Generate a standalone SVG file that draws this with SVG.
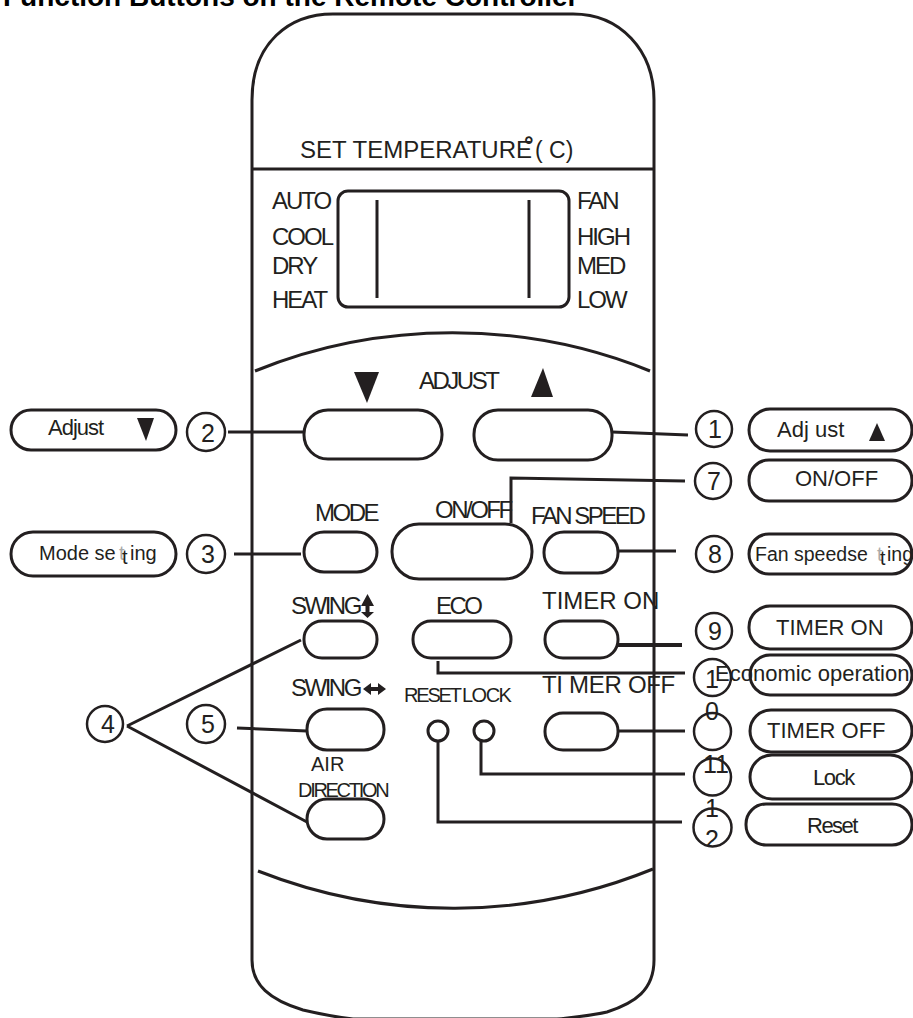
<svg xmlns="http://www.w3.org/2000/svg" width="913" height="1018" viewBox="0 0 913 1018">
<style>
text{font-family:"Liberation Sans",Arial,sans-serif;fill:#231f20;font-size:24px}
.s{fill:none;stroke:#231f20;stroke-width:3}
.c{fill:none;stroke:#231f20;stroke-width:2.5}
.b{fill:#fff;stroke:#231f20;stroke-width:3}
.n{font-size:25px;text-anchor:middle}
.f{fill:#231f20}
.t{letter-spacing:-2.5px}
.m{letter-spacing:-2px}
</style>
<defs><clipPath id="clip12"><rect x="690" y="800" width="50" height="46"/></clipPath></defs>
<rect width="913" height="1018" fill="#fff"/>
<text x="3" y="6" style="font-size:28px;font-weight:bold;fill:#000">Function Buttons on the Remote Controller</text>
<g id="body">
<path class="s" d="M252 100C252 42 290 14 333 14H573C620 14 654 50 654 100V960C654 990 635 1003 607 1012C590 1016 575 1017 557 1019H353C335 1017 320 1014 303 1010C270 1000 252 985 252 960Z"/>
<path class="s" d="M252 169H654"/>
<rect class="s" x="338" y="191" width="231" height="116" rx="10"/>
<path class="s" d="M377 200V298M529 200V298"/>
<path class="s" d="M255 371C380 320 525 320 650 371"/>
<path class="s" d="M258 871C385 921 525 921 653 869"/>
<text x="300" y="158">SET TEMPERATURE</text><text x="524" y="153" style="font-weight:bold">°</text>
<text x="535" y="158" style="font-size:23px">( C)</text>
<text class="m" x="272" y="209">AUTO</text><text class="m" x="272" y="245">COOL</text><text class="m" x="272" y="274">DRY</text><text class="m" x="272" y="308">HEAT</text>
<text class="m" x="577" y="209">FAN</text><text class="m" x="577" y="245">HIGH</text><text class="m" x="577" y="274">MED</text><text class="m" x="577" y="308">LOW</text>
<path class="f" d="M354 372H379L367 403Z"/><path class="f" d="M531 397H553L543 368Z"/>
<text class="t" x="419" y="389">ADJUST</text>
<text class="t" x="315" y="521">MODE</text>
<text class="t" x="435" y="518">ON/OFF</text>
<text class="t" x="531" y="524">FAN SPEED</text>
<text class="t" x="291" y="614">SWING</text>
<path class="f" d="M367.5 594L374 606H369.5V606.5H369.5V612H374L367.5 618L361 612H365.5V606H361Z"/>
<text class="t" x="436" y="614">ECO</text>
<text x="542" y="609">TIMER ON</text>
<text class="t" x="291" y="696">SWING</text>
<path class="f" d="M363 689L371 683V687H378V683L386 689L378 695V691H371V695Z"/>
<text x="404" y="702" style="font-size:20px;letter-spacing:-2.2px">RESET</text><text x="462" y="702" style="font-size:20px;letter-spacing:-1.5px">LOCK</text>
<text x="542" y="693" style="letter-spacing:-.3px">TI MER OFF</text>
<text x="311" y="771" style="font-size:20px">AIR</text>
<text x="298" y="797" style="font-size:20px;letter-spacing:-2.3px">DIRECTION</text>
</g>
<g id="connectors">
<path class="s" d="M228 432H304M234 554H301M612 432L688 435M511 523V478L685 481M618 551H676M438 661V673H685M618 731H685M438 741V822H682M481 741V774H685M127 726L301 640M127 726L307 822M237 728L307 731"/>
<path class="s" style="stroke-width:4" d="M618 645H682"/>
</g>
<g id="buttons">
<rect id="btn-down" class="s" x="304" y="410" width="138" height="49" rx="24"/>
<rect id="btn-up" class="s" x="474" y="410" width="138" height="50" rx="24"/>
<rect id="btn-mode" class="s" x="304" y="532" width="73" height="40" rx="20"/>
<rect id="btn-onoff" class="s" x="392" y="524" width="140" height="55" rx="27"/>
<rect id="btn-fan" class="s" x="544" y="532" width="74" height="41" rx="20"/>
<rect id="btn-swingv" class="s" x="304" y="621" width="73" height="37" rx="18"/>
<rect id="btn-eco" class="s" x="413" y="621" width="98" height="37" rx="18"/>
<rect id="btn-timeron" class="s" x="545" y="621" width="73" height="37" rx="18"/>
<rect id="btn-swingh" class="s" x="307" y="709" width="77" height="41" rx="20"/>
<rect id="btn-air" class="s" x="307" y="799" width="77" height="40" rx="20"/>
<rect id="btn-timeroff" class="s" x="545" y="713" width="73" height="37" rx="18"/>
<circle id="btn-reset" class="b" cx="438" cy="731" r="10"/>
<circle id="btn-lock" class="b" cx="484" cy="731" r="10"/>
</g>
<g id="n2"><circle class="c" cx="206" cy="432" r="19"/><text class="n" x="208" y="442">2</text></g>
<g id="n3"><circle class="c" cx="206" cy="554" r="19"/><text class="n" x="208" y="563">3</text></g>
<g id="n4"><circle class="c" cx="105" cy="724" r="18"/><text class="n" x="108" y="733">4</text></g>
<g id="n5"><circle class="c" cx="206" cy="724" r="19"/><text class="n" x="208" y="733">5</text></g>
<g id="n1"><circle class="c" cx="714" cy="429" r="18"/><text class="n" x="715" y="438">1</text></g>
<g id="n7"><circle class="c" cx="713" cy="481" r="18"/><text class="n" x="714" y="490">7</text></g>
<g id="n8"><circle class="c" cx="714" cy="554" r="18"/><text class="n" x="715" y="563">8</text></g>
<g id="n9"><circle class="c" cx="714" cy="631" r="18"/><text class="n" x="715" y="640">9</text></g>
<g id="n10"><circle class="c" cx="712.5" cy="677.5" r="18.5"/><text class="n" x="712" y="688">1</text><text class="n" x="712" y="720">0</text></g>
<g id="n-timeroff"><circle class="c" cx="712.5" cy="731.5" r="18.5"/></g>
<g id="n11"><circle class="c" cx="712.5" cy="777" r="18.5"/><text class="n" x="716" y="773">11</text></g>
<g id="n12"><circle class="c" cx="712.5" cy="827.5" r="19"/><text class="n" x="712" y="817">1</text><text class="n" x="712" y="848" clip-path="url(#clip12)">2</text></g>
<g id="p-down"><rect class="s" x="11" y="410" width="165" height="40" rx="20"/><text x="48" y="435" style="font-size:22px;letter-spacing:-1px">Adjust</text><path class="f" d="M137 418H154L146 441Z"/></g>
<g id="p-mode"><rect class="s" x="11" y="532" width="165" height="44" rx="22"/><text x="39" y="560" style="font-size:20px">Mode se</text><text x="119" y="560" style="font-size:20px;fill:#aaa">t</text><text x="122" y="564" style="font-size:20px">t</text><text x="130" y="560" style="font-size:20px">ing</text></g>
<g id="p-up"><rect class="s" x="749" y="409" width="163" height="42" rx="21"/><text x="777" y="437" style="font-size:22px">Adj ust</text><path class="f" d="M869 441H885L877 423Z"/></g>
<g id="p-onoff"><rect class="s" x="749" y="460" width="163" height="41" rx="20"/><text x="795" y="486" style="font-size:22px">ON/OFF</text></g>
<g id="p-fan"><rect class="s" x="749" y="534" width="163" height="40" rx="20"/><text x="755" y="561" style="font-size:19.5px">Fan speedse</text><text x="877" y="561" style="font-size:19.5px;fill:#aaa">t</text><text x="880" y="565" style="font-size:19.5px">t</text><text x="887" y="561" style="font-size:19.5px">ing</text></g>
<g id="p-timeron"><rect class="s" x="749" y="606" width="163" height="43" rx="21"/><text x="776" y="635" style="font-size:22px">TIMER ON</text></g>
<g id="p-eco"><rect class="s" x="750" y="655" width="162" height="40" rx="20"/><text x="715" y="681" style="font-size:22px">Economic operation</text></g>
<g id="p-timeroff"><rect class="s" x="750" y="710" width="162" height="42" rx="21"/><text x="767" y="738" style="font-size:22px">TIMER OFF</text></g>
<g id="p-lock"><rect class="s" x="750" y="755" width="162" height="44" rx="22"/><text x="813" y="785" style="font-size:22px;letter-spacing:-1.4px">Lock</text></g>
<g id="p-reset"><rect class="s" x="746" y="804" width="166" height="41" rx="20"/><text x="807" y="833" style="font-size:22px;letter-spacing:-1.5px">Reset</text></g>
</svg>
